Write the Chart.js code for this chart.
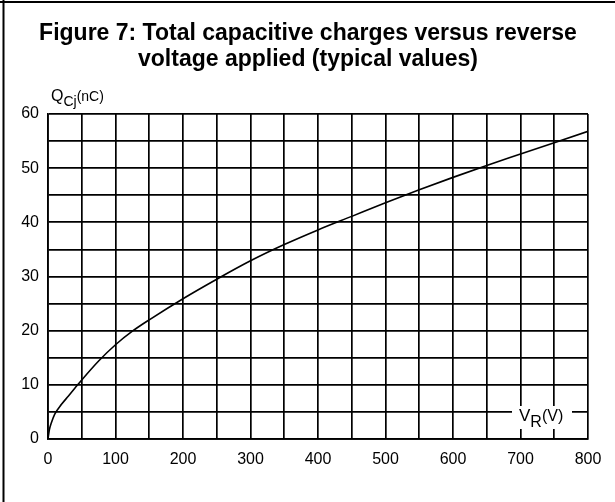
<!DOCTYPE html>
<html>
<head>
<meta charset="utf-8">
<script src="https://cdn.jsdelivr.net/npm/chart.js@4/dist/chart.umd.min.js"></script>
<style>
  html, body { margin: 0; padding: 0; background: #fff; }
  #wrap { width: 615px; height: 502px; position: relative; }
</style>
</head>
<body>
<div id="wrap"><canvas id="c" width="615" height="502"></canvas></div>
<script>
// Data
const titleLines = ["Figure 7: Total capacitive charges versus reverse", "voltage applied (typical values)"];
const reverseVoltage = [0, 2, 5, 10, 20, 30, 40, 50, 75, 100, 125, 150, 200, 250, 300, 350, 400, 450, 500, 550, 600, 650, 700, 750, 800];
const chargeQCj     = [0, 1.7, 3.0, 4.6, 6.4, 7.9, 9.4, 10.9, 14.4, 17.4, 19.9, 22.0, 25.9, 29.5, 32.9, 35.9, 38.6, 41.1, 43.6, 46.0, 48.3, 50.5, 52.6, 54.7, 56.8];
const xTickLabels = ["0", "100", "200", "300", "400", "500", "600", "700", "800"];
const yTickLabels = ["0", "10", "20", "30", "40", "50", "60"];

const FONT = "'Liberation Sans', Arial, Helvetica, sans-serif";

const points = reverseVoltage.map((v, i) => ({ x: v, y: chargeQCj[i] }));

const decorPlugin = {
  id: 'decor',
  beforeDraw(chart) {
    const ctx = chart.ctx;
    ctx.save();
    ctx.fillStyle = '#fff';
    ctx.fillRect(0, 0, chart.width, chart.height);
    ctx.strokeStyle = '#000';
    ctx.lineWidth = 2;
    ctx.beginPath();
    ctx.moveTo(0, 2); ctx.lineTo(chart.width, 2);
    ctx.moveTo(3.5, 0); ctx.lineTo(3.5, chart.height);
    ctx.stroke();
    ctx.restore();
  },
  afterDraw(chart) {
    const ctx = chart.ctx;
    ctx.save();
    // Title
    ctx.fillStyle = '#000';
    ctx.font = "bold 23px " + FONT;
    ctx.textAlign = 'center';
    ctx.textBaseline = 'alphabetic';
    ctx.fillText(titleLines[0], 308, 40);
    ctx.fillText(titleLines[1], 308, 66);
    // Y axis title Q_Cj(nC)
    ctx.textAlign = 'left';
    ctx.font = "16px " + FONT;
    let x = 51;
    ctx.fillText('Q', x, 101);
    x += ctx.measureText('Q').width;
    ctx.font = "14px " + FONT;
    ctx.fillText('Cj', x, 106);
    x += ctx.measureText('Cj').width;
    ctx.fillText('(nC)', x, 101);
    // X axis title V_R(V) with white box
    const bx0 = 512, bx1 = 572, by0 = 406, by1 = 429;
    ctx.fillStyle = '#fff';
    ctx.fillRect(bx0, by0, bx1 - bx0, by1 - by0);
    ctx.fillStyle = '#000';
    ctx.font = "17px " + FONT;
    x = 519;
    ctx.fillText('V', x, 421);
    x += ctx.measureText('V').width;
    ctx.font = "16px " + FONT;
    ctx.fillText('R', x, 427);
    x += ctx.measureText('R').width;
    ctx.fillText('(V)', x, 421);
    ctx.restore();
  }
};

new Chart(document.getElementById('c'), {
  type: 'line',
  data: {
    datasets: [{
      data: points,
      borderColor: '#000',
      borderWidth: 1.6,
      pointRadius: 0,
      fill: false,
      cubicInterpolationMode: 'monotone'
    }]
  },
  options: {
    responsive: false,
    animation: false,
    devicePixelRatio: 1,
    layout: { padding: { top: 114, left: 0, right: 27, bottom: 0 } },
    plugins: {
      legend: { display: false },
      title: { display: false },
      tooltip: { enabled: false }
    },
    scales: {
      x: {
        type: 'linear',
        min: 0, max: 800,
        afterFit(s) { s.height = 63; },
        grid: { color: '#000', lineWidth: 1.7, drawTicks: false },
        border: { color: '#000', width: 1.7 },
        ticks: {
          stepSize: 50,
          padding: 11,
          color: '#000',
          font: { family: FONT, size: 16 },
          maxRotation: 0,
          autoSkip: false,
          callback: (v) => (xTickLabels.includes(String(v)) ? String(v) : '')
        }
      },
      y: {
        type: 'linear',
        min: 0, max: 60,
        afterFit(s) { s.width = 48; },
        grid: { color: '#000', lineWidth: 1.7, drawTicks: false },
        border: { color: '#000', width: 1.7 },
        ticks: {
          stepSize: 5,
          padding: 9,
          color: '#000',
          font: { family: FONT, size: 16 },
          autoSkip: false,
          callback: (v) => (yTickLabels.includes(String(v)) ? String(v) : '')
        }
      }
    }
  },
  plugins: [decorPlugin]
});
</script>
</body>
</html>
